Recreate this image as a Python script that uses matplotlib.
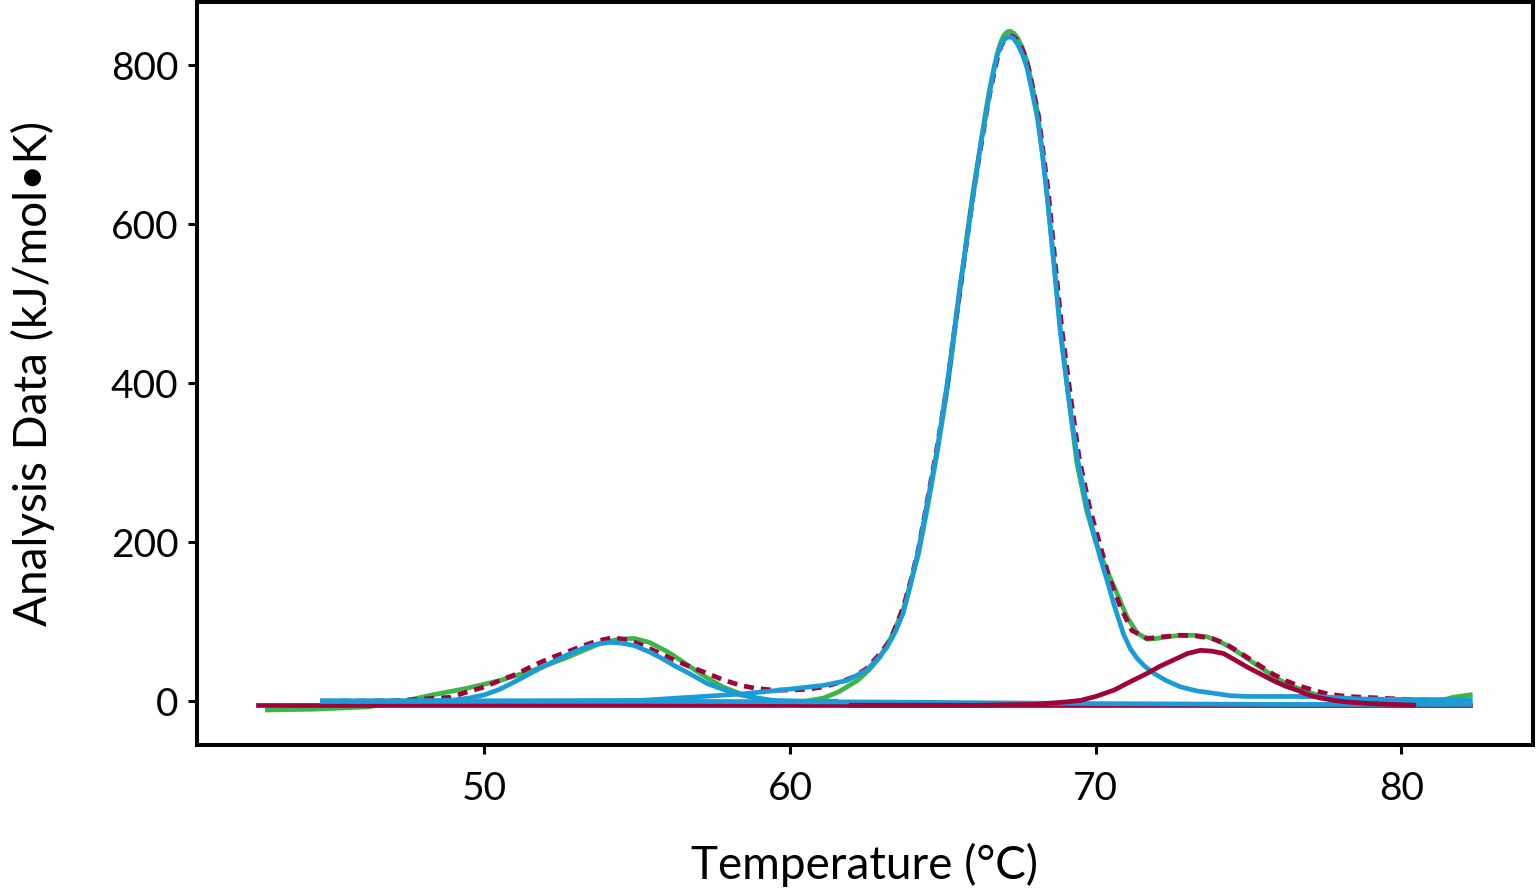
import matplotlib
matplotlib.use("Agg")
import matplotlib.pyplot as plt

# measured curve (green)
meas_t = [42.9, 44.5, 46.2, 47.25, 48.3, 49.4, 50.5, 51.6, 52.7, 53.8, 54.4, 54.9,
          55.4, 56.0, 56.4, 56.74, 57.3, 57.8, 58.4, 58.9, 59.5, 60.0, 60.5, 61.1,
          61.6, 62.2, 62.6, 62.95, 63.3, 63.7, 63.95, 64.2, 64.5, 64.8, 65.15, 65.35,
          65.6, 65.8, 66.0, 66.25, 66.4, 66.55, 66.7, 66.8, 66.9, 67.0, 67.1, 67.2,
          67.33, 67.45, 67.6, 67.75, 67.9, 68.1, 68.4, 68.63, 68.84, 69.1, 69.38,
          69.7, 70.0, 70.3, 70.7, 71.02, 71.35, 71.68, 72.0, 72.33, 72.77, 73.2,
          73.64, 74.0, 74.4, 74.8, 75.17, 75.6, 76.04, 76.5, 76.91, 77.3, 77.67,
          78.2, 78.76, 79.5, 80.3, 80.94, 81.4, 81.7, 82.25]
meas_y = [-11, -10, -7, -1, 8, 16, 26, 39, 55, 73, 78, 79,
          74, 62, 52, 43, 29, 18, 9, 4, 0, -1, 0, 4,
          12, 26, 40, 56, 80, 115, 150, 185, 245, 310, 395, 455,
          530, 590, 645, 705, 742, 775, 802, 818, 830, 838, 842, 843,
          840, 834, 822, 805, 778, 740, 640, 552, 468, 385, 300,
          240, 200, 170, 135, 106, 86, 78, 79, 81, 83, 83,
          81, 76, 68, 58, 48, 37, 26, 18, 12, 7, 4,
          2, 0.5, 0, 0, 0.5, 2, 5, 8]

# cumulative fit (dashed)
fit_t = [44.7, 47.0, 48.9, 49.3, 50.0, 50.5, 51.1, 51.6, 52.2, 52.7, 53.25, 53.7,
         54.2, 54.7, 55.2, 55.7, 56.2, 56.75, 57.3, 57.8, 58.37, 58.9, 59.46, 60.0,
         60.56, 61.1, 61.65, 62.1, 62.5, 62.9, 63.28, 63.7, 63.95, 64.2, 64.5, 64.8,
         65.15, 65.35, 65.6, 65.8, 66.0, 66.25, 66.4, 66.55, 66.7, 66.8, 66.9, 67.0,
         67.1, 67.25, 67.37, 67.5, 67.65, 67.8, 67.95, 68.12, 68.45, 68.67, 68.9,
         69.17, 69.46, 69.82, 70.15, 70.42, 70.8, 71.18, 71.68, 72.17, 72.77, 73.3,
         73.8, 74.2, 74.6, 75.0, 75.4, 75.8, 76.2, 76.6, 77.1, 77.6, 78.2, 79.3,
         80.3, 81.2, 82.0]
fit_y = [0, 0.5, 5, 10, 18, 26, 35, 45, 55, 62, 70, 76,
         80, 77, 70, 61, 52, 43, 35, 27, 20, 16, 14, 14,
         15, 18, 24, 31, 41, 58, 77, 118, 152, 192, 255, 318,
         400, 460, 528, 585, 640, 700, 735, 768, 795, 812, 824, 831,
         835, 837, 834, 828, 815, 797, 770, 738, 640, 552, 465,
         385, 305, 240, 195, 158, 119, 89, 79, 81, 83, 82,
         79, 73, 64, 54, 44, 34, 26, 20, 14, 9, 6, 4,
         2, 1, 0]

# first transition component (blue)
peak1_t = [44.7, 46.5, 48.0, 48.9, 49.5, 50.0, 50.5, 51.07, 51.6, 52.16, 52.7,
           53.25, 53.7, 54.12, 54.5, 54.9, 55.4, 55.8, 56.2, 56.7, 57.3, 57.8,
           58.37, 58.9, 59.46, 60.56, 61.5]
peak1_y = [0, 0, 0.5, 1, 4, 8, 15, 26, 37, 48, 58,
           67, 72, 74, 73, 70, 62, 54, 45, 35, 22, 15,
           8, 4, 1, 0, 0]

# main transition component (blue)
peak2_t = [44.7, 48.0, 52.0, 55.1, 56.74, 58.37, 59.7, 61.1, 61.86, 62.5, 62.9,
           63.17, 63.45, 63.7, 63.95, 64.2, 64.5, 64.81, 65.14, 65.35, 65.57, 65.8,
           66.0, 66.12, 66.23, 66.4, 66.55, 66.67, 66.77, 66.9, 67.0, 67.1, 67.21,
           67.33, 67.45, 67.6, 67.75, 67.9, 68.08, 68.25, 68.41, 68.63, 68.84,
           69.1, 69.4, 69.77, 70.15, 70.4, 70.59, 70.91, 71.13, 71.35, 71.6, 71.9,
           72.3, 72.77, 73.3, 73.86, 74.4, 74.95, 75.8, 76.58, 77.1, 77.67, 78.5,
           79.3, 80.3, 81.2, 82.25]
peak2_y = [0, 0, 0.5, 1, 5, 9, 14, 20, 26, 39, 55,
           68, 88, 111, 148, 190, 252, 316, 400, 460, 526, 585,
           640, 670, 700, 737, 770, 795, 812, 826, 832, 835, 836,
           833, 826, 814, 797, 770, 736, 690, 635, 550, 465,
           385, 305, 235, 180, 148, 122, 84, 66, 54, 44, 35,
           26, 18, 13, 10, 7, 6, 6, 6, 5.5, 5, 3,
           2.5, 2, 2, 2]

# third transition component (dark red)
peak3_t = [62.0, 66.0, 68.0, 69.0, 69.5, 70.0, 70.6, 71.1, 71.68, 72.1, 72.55,
           73.0, 73.42, 73.8, 74.18, 74.55, 74.95, 75.4, 75.8, 76.2, 76.58, 76.95,
           77.35, 77.8, 78.22, 79.0, 80.4]
peak3_y = [-5, -5, -4, -1, 1, 6, 14, 24, 35, 44, 52,
           60, 64, 63, 60, 52, 43, 34, 26, 19, 14, 8,
           4, 1, -1, -3, -5]

# baselines
base_blue_t = [44.7, 55.0, 63.0, 70.0, 76.0, 82.25]
base_blue_y = [0.5, 0, -1, -3, -4, -4]
base_red_t = [42.6, 82.25]
base_red_y = [-5, -5]

GREEN = "#3DB54A"
BLUE = "#1A9CD8"
RED = "#A0033A"

plt.rcParams['font.family'] = ['Lato', 'DejaVu Sans']

fig = plt.figure(figsize=(15.36, 8.9), dpi=100)
ax = fig.add_axes([0.1283, 0.163, 0.8697, 0.835])

lw = 3.4
ax.plot(meas_t, meas_y, color=GREEN, lw=lw, zorder=2)
ax.plot(fit_t, fit_y, color=RED, lw=lw, dashes=(2.1, 1.5), zorder=3)
ax.plot(base_red_t, base_red_y, color=RED, lw=lw, zorder=3.5)
ax.plot(base_blue_t, base_blue_y, color=BLUE, lw=lw, zorder=4)
ax.plot(peak1_t, peak1_y, color=BLUE, lw=lw, zorder=4)
ax.plot(peak2_t, peak2_y, color=BLUE, lw=lw, zorder=4)
ax.plot(peak3_t, peak3_y, color=RED, lw=lw, zorder=5)

ax.set_xlim(40.6, 84.3)
ax.set_ylim(-55, 880)
ax.set_xticks([50, 60, 70, 80])
ax.set_yticks([0, 200, 400, 600, 800])

for s in ax.spines.values():
    s.set_linewidth(2.9)
ax.tick_params(direction='out', length=6.5, width=2.2, labelsize=28)
ax.tick_params(axis='x', pad=12)
ax.tick_params(axis='y', pad=7)

ax.set_xlabel('Temperature (°C)', fontsize=33, labelpad=26)
ax.set_ylabel('Analysis Data (kJ/mol•K)', fontsize=33, labelpad=40)

fig.savefig("out.png", dpi=100)
